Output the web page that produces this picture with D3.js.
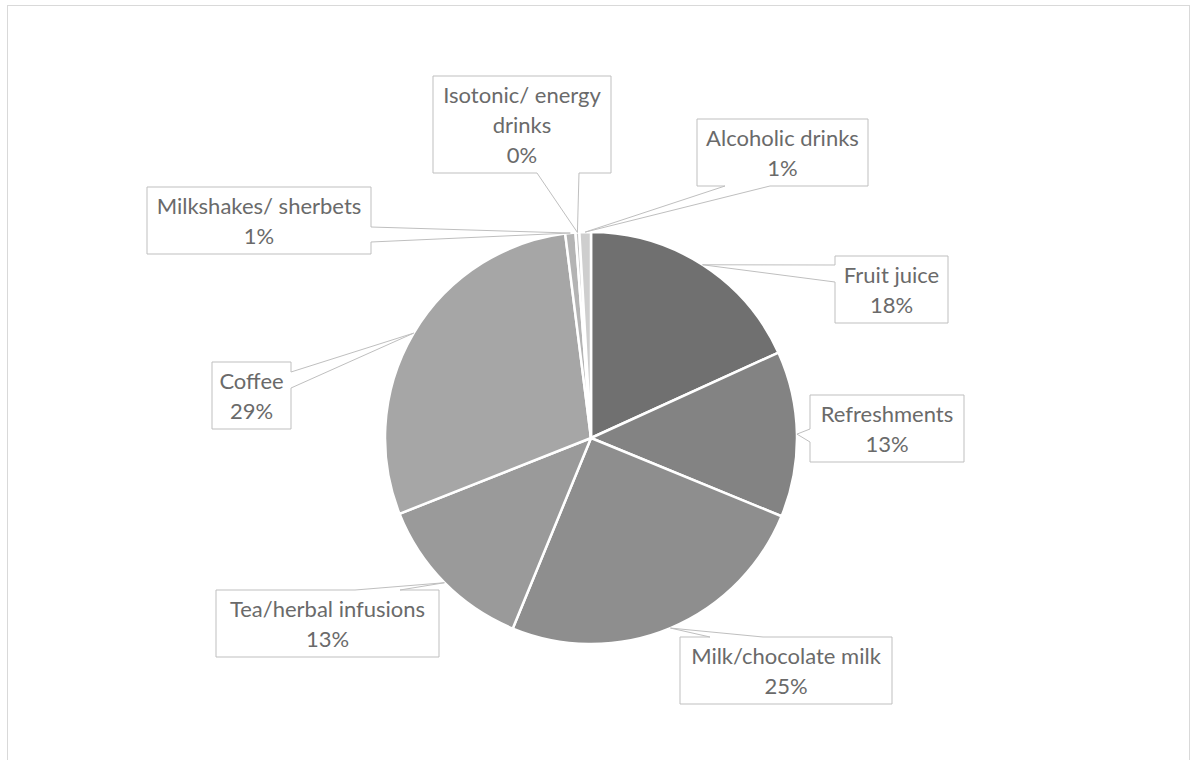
<!DOCTYPE html>
<html>
<head>
<meta charset="utf-8">
<script src="https://cdn.jsdelivr.net/npm/d3@7"></script>
<style>
  html, body { margin: 0; padding: 0; background: #fff; }
  svg { display: block; }
</style>
</head>
<body>
<svg id="chart" width="1194" height="760"></svg>
<script>
// Beverage consumption shares, drawn clockwise from 12 o'clock
const categories = [
  "Fruit juice", "Refreshments", "Milk/chocolate milk", "Tea/herbal infusions",
  "Coffee", "Milkshakes/ sherbets", "Isotonic/ energy drinks", "Alcoholic drinks"
];
const shares = [18.2, 13.0, 25.0, 12.8, 29.0, 0.8, 0.3, 0.9];

// How each category name wraps inside its callout
const nameLines = [
  ["Fruit juice"], ["Refreshments"], ["Milk/chocolate milk"], ["Tea/herbal infusions"],
  ["Coffee"], ["Milkshakes/ sherbets"], ["Isotonic/ energy", "drinks"], ["Alcoholic drinks"]
];

const sliceColors = ["#707070", "#838383", "#8e8e8e", "#9a9a9a", "#a6a6a6", "#b4b4b4", "#c4c4c4", "#cecece"];

// Callout boxes: rectangle plus the edge the pointer leaves from and its base span
const callouts = [
  { x: 835, y: 256, w: 113, h: 67, side: "left",   base: [265, 282] },
  { x: 810, y: 395, w: 154, h: 67, side: "left",   base: [429, 442] },
  { x: 680, y: 637, w: 212, h: 67, side: "top",    base: [710, 763] },
  { x: 216, y: 590, w: 223, h: 67, side: "top",    base: [355, 400] },
  { x: 212, y: 362, w: 79,  h: 67, side: "right",  base: [372, 388] },
  { x: 147, y: 187, w: 224, h: 67, side: "right",  base: [227, 242] },
  { x: 433, y: 76,  w: 178, h: 97, side: "bottom", base: [537, 579] },
  { x: 697, y: 119, w: 171, h: 67, side: "bottom", base: [725, 770] }
];

const cx = 591, cy = 438, R = 206;

const svg = d3.select("#chart");

// chart area frame
svg.append("rect")
  .attr("x", 7.5).attr("y", 5.5)
  .attr("width", 1182).attr("height", 800)
  .attr("fill", "none").attr("stroke", "#d9d9d9").attr("stroke-width", 1);

const total = d3.sum(shares);
const pct = d3.format(".0%");

const pie = d3.pie().sort(null).value(d => d).startAngle(0).endAngle(2 * Math.PI);
const arcs = pie(shares);
const arc = d3.arc().innerRadius(0).outerRadius(R);

const g = svg.append("g").attr("transform", `translate(${cx},${cy})`);
g.selectAll("path.slice")
  .data(arcs)
  .join("path")
  .attr("class", "slice")
  .attr("d", arc)
  .attr("fill", (d, i) => sliceColors[i])
  .attr("stroke", "#ffffff")
  .attr("stroke-width", 2.5)
  .attr("stroke-linejoin", "round");

// pointer tip sits on the rim at each slice's middle angle
function tipOf(a) {
  const m = (a.startAngle + a.endAngle) / 2;
  return [cx + R * Math.sin(m), cy - R * Math.cos(m)];
}

function calloutPath(b, tip) {
  const { x, y, w, h, side, base: [p, q] } = b;
  const pts = [[x, y]];
  if (side === "top") pts.push([p, y], tip, [q, y]);
  pts.push([x + w, y]);
  if (side === "right") pts.push([x + w, p], tip, [x + w, q]);
  pts.push([x + w, y + h]);
  if (side === "bottom") pts.push([q, y + h], tip, [p, y + h]);
  pts.push([x, y + h]);
  if (side === "left") pts.push([x, q], tip, [x, p]);
  return "M" + pts.map(pt => pt.join(",")).join("L") + "Z";
}

const labels = svg.append("g").attr("class", "labels");
arcs.forEach((a, i) => {
  const b = callouts[i];
  const grp = labels.append("g");
  grp.append("path")
    .attr("d", calloutPath(b, tipOf(a)))
    .attr("fill", "#ffffff")
    .attr("stroke", "#bfbfbf")
    .attr("stroke-width", 1)
    .attr("stroke-linejoin", "miter");
  const lines = nameLines[i].concat([pct(shares[i] / total)]);
  lines.forEach((t, k) => {
    grp.append("text")
      .attr("x", b.x + b.w / 2)
      .attr("y", b.y + 27 + 30 * k)
      .attr("text-anchor", "middle")
      .attr("font-family", "Lato, 'Open Sans', sans-serif")
      .attr("font-size", 22)
      .attr("fill", "#6a6a6a")
      .text(t);
  });
});
</script>
</body>
</html>
